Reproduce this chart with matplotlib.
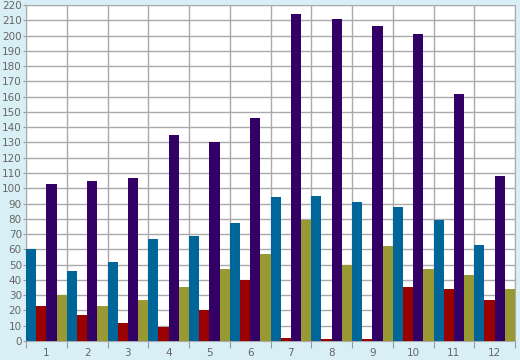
import numpy as np
import matplotlib.pyplot as plt

groups = ['1', '2', '3', '4', '5', '6', '7', '8', '9', '10', '11', '12']
blue = [60, 46, 52, 67, 69, 77, 94, 95, 91, 88, 79, 63]
red = [23, 17, 12, 9, 20, 40, 2, 1, 1, 35, 34, 27]
purple = [103, 105, 107, 135, 130, 146, 214, 211, 206, 201, 162, 108]
olive = [30, 23, 27, 35, 47, 57, 79, 50, 62, 47, 43, 34]

series = [blue, red, purple, olive]
colors = ['#006699', '#990000', '#330066', '#999933']

fig = plt.figure(figsize=(5.2, 3.6), dpi=100, facecolor='#d9eff6')
ax = fig.add_axes([0.05, 0.053, 0.9404, 0.933])
ax.set_facecolor('white')

x = np.arange(len(groups)) + 0.5
w = 0.25
for i, (vals, c) in enumerate(zip(series, colors)):
    ax.bar(x + (i - 1.5) * w, vals, width=w, color=c, zorder=3)

ax.set_xlim(0, len(groups))
ax.set_ylim(0, 220)
ax.set_yticks(np.arange(0, 221, 10))
ax.set_xticks(np.arange(0, len(groups) + 1))
ax.set_xticklabels([])
ax.set_xticks(x, minor=True)
ax.set_xticklabels(groups, minor=True)
ax.tick_params(axis='x', which='major', length=5, color='#999999')
ax.tick_params(axis='x', which='minor', length=0, pad=5)
ax.tick_params(axis='y', length=2, color='#999999', pad=1)
ax.tick_params(which='both', labelsize=7.5, labelcolor='#666666')
ax.grid(True, color='#aaaaaa', linewidth=1, zorder=0)
for s in ax.spines.values():
    s.set_color('#aaaaaa')

fig.savefig('out.png', dpi=100, facecolor=fig.get_facecolor())
